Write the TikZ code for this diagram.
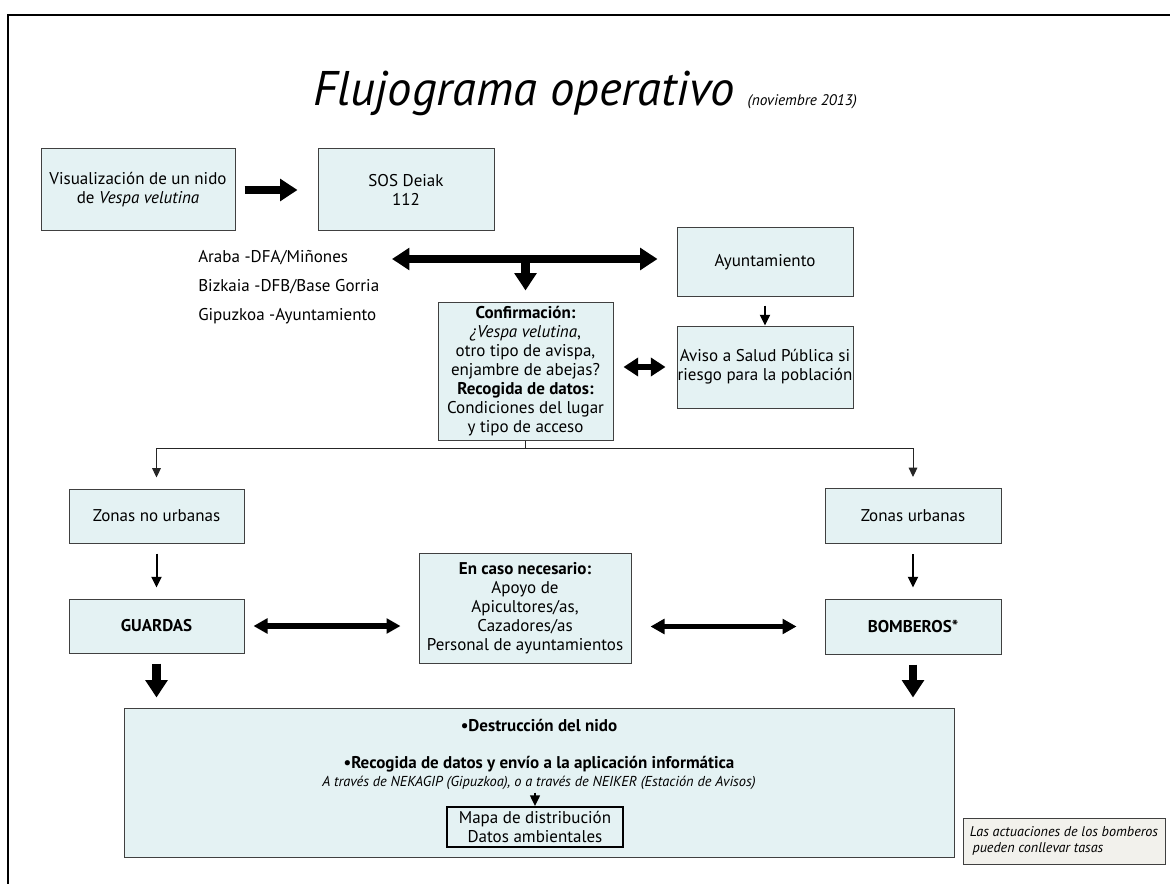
\documentclass[tikz,border=0pt]{standalone}
\usepackage{fontspec}
\setmainfont{PT Sans}
\usetikzlibrary{arrows.meta,positioning}
\definecolor{boxfill}{HTML}{E4F2F3}
\definecolor{boxline}{HTML}{404040}
\definecolor{notefill}{HTML}{F2F1EC}
\newcommand{\bodyfont}{\fontsize{12.75}{14.25}\selectfont}
\tikzset{%
  every box/.style={
    draw=boxline,
    fill=boxfill,
    line width=0.75pt,
    align=center,
    inner sep=0pt,
    font=\bodyfont
  },
  wh/.style 2 args={
    minimum width=#1*0.75pt,
    minimum height=#2*0.75pt
  },
  plain text/.style={
    font=\bodyfont,
    inner sep=0pt
  },
  fat arrow/.style={
    line width=6.5pt,
    -{Triangle[width=16pt,length=13pt]}
  },
  fat both/.style={
    line width=6.5pt,
    {Triangle[width=16pt,length=13pt]}-{Triangle[width=16pt,length=13pt]}
  },
  mid both/.style={
    line width=4pt,
    {Triangle[width=11pt,length=10.5pt]}-{Triangle[width=11pt,length=10.5pt]}
  },
  short both/.style={
    line width=4.5pt,
    {Triangle[width=13.5pt,length=11pt]}-{Triangle[width=13.5pt,length=11pt]}
  },
  mid arrow/.style={
    line width=1.5pt,
    -{Triangle[width=7.5pt,length=8pt]}
  },
  thin arrow/.style={
    line width=0.75pt,
    draw=black!85,
    -{Triangle[width=6.5pt,length=7pt]}
  },
}

\begin{document}
\begin{tikzpicture}[x=0.75pt, y=-0.75pt]

\useasboundingbox (0,0) rectangle (1170,884);
\draw[line width=1.5pt] (8,884) -- (8,15) -- (1170,15);

% Title
\node[font=\fontsize{36.5}{42}\selectfont\itshape, anchor=base, inner sep=0pt] (title) at (524,106) {Flujograma operativo};
\node[font=\fontsize{11.5}{13}\selectfont\itshape, anchor=base west, inner sep=0pt] (date) at ([xshift=9.75pt]title.base east) {(noviembre 2013)};

% First row
\node[every box, wh={194}{82}] (vis) at (138,190) {Visualización de un nido\\de \textit{Vespa velutina}};
\node[every box, wh={176}{82}] (sos) at (406,190) {SOS Deiak\\112};

% Territories
\foreach \t/\l [count=\y] in {araba/{Araba -DFA/Miñones}, bizkaia/{Bizkaia -DFB/Base Gorria}, gipuzkoa/{Gipuzkoa -Ayuntamiento}}
  \node[plain text, anchor=west] (\t) at (198,229+\y*29) {\l};

% Middle block
\node[every box, wh={176}{68}] (ayto) at (765,262) {Ayuntamiento};
\node[every box, wh={175}{138}] (conf) at (525.5,371) {\textbf{Confirmación:}\\\textit{¿Vespa velutina},\\otro tipo de avispa,\\enjambre de abejas?\\\textbf{Recogida de datos:}\\Condiciones del lugar\\y tipo de acceso};
\node[every box, wh={176}{82}] (aviso) at (765,367) {Aviso a Salud Pública si\\riesgo para la población};

% Zones and services
\node[every box, wh={175}{54}] (nourb) at (156.5,516) {Zonas no urbanas};
\node[every box, wh={176}{55}] (urb) at (913,516) {Zonas urbanas};
\node[every box, wh={175}{54}] (guardas) at (156.5,626) {\textbf{GUARDAS}};
\node[every box, wh={176}{55}] (bomb) at (913,626.5) {\textbf{BOMBEROS*}};
\node[every box, wh={212}{110}] (caso) at (525,608) {\textbf{En caso necesario:}\\Apoyo de\\Apicultores/as,\\Cazadores/as\\Personal de ayuntamientos};

% Bottom block
\node[every box, wh={830}{149}] (big) at (539,782.5) {};
\node[plain text, font=\bodyfont\bfseries] (dest) at (539,725) {•Destrucción del nido};
\node[plain text, font=\bodyfont\bfseries] (recog) at (539,764) {•Recogida de datos y envío a la aplicación informática};
\node[plain text, font=\fontsize{10.8}{13}\selectfont\itshape] (via) at (539,783) {A través de NEKAGIP (Gipuzkoa), o a través de NEIKER (Estación de Avisos)};
\node[every box, draw=black, line width=1.5pt, wh={176}{40}] (mapa) at (535,827) {Mapa de distribución\\Datos ambientales};

\node[draw=boxline, fill=notefill, line width=0.75pt, wh={202}{46}, inner sep=0pt, align=left,
  font=\fontsize{10.6}{12}\selectfont\itshape] (note) at (1064,841) {Las actuaciones de los bomberos\\\hspace{2pt}pueden conllevar tasas};

% ARROWS
\draw[fat arrow, shorten <=6.75pt, shorten >=15pt] (vis.east) -- (sos.west);

\coordinate (lefttip) at (392,259);
\draw[fat both, shorten >=14.25pt] (lefttip) -- (lefttip -| ayto.west);
\coordinate (split) at (conf.north |- lefttip);
\draw[fat arrow, shorten >=8.25pt] (split) -- (conf.north);

\draw[mid arrow, shorten <=6.75pt] (ayto.south) -- (aviso.north);
\draw[short both, shorten <=7.5pt, shorten >=8.25pt] (conf.east |- aviso.west) -- (aviso.west);

\coordinate[below=6pt of conf.south] (fork);
\draw[black!85, line width=0.75pt] (conf.south) -- (fork);
\draw[thin arrow, shorten >=8.25pt] (fork) -| (nourb.north);
\draw[thin arrow, shorten >=8.25pt] (fork) -| (urb.north);

\draw[mid arrow, shorten <=7.5pt, shorten >=8.25pt] (nourb.south) -- (guardas.north);
\draw[mid arrow, shorten <=7.5pt, shorten >=8.25pt] (urb.south) -- (bomb.north);

\draw[mid both, shorten <=6.75pt, shorten >=13.5pt] (guardas.east) -- (guardas.east -| caso.west);
\draw[mid both, shorten <=14.25pt, shorten >=21pt] (caso.east |- bomb.west) -- (bomb.west);

\draw[fat arrow, shorten <=7.5pt, shorten >=7.5pt] (guardas.south) -- (guardas.south |- big.north);
\draw[fat arrow, shorten <=7.5pt, shorten >=7.5pt] (bomb.south) -- (bomb.south |- big.north);

\draw[mid arrow, line width=1pt, shorten <=2pt] (mapa.north |- via.south) -- (mapa.north);

\end{tikzpicture}
\end{document}
